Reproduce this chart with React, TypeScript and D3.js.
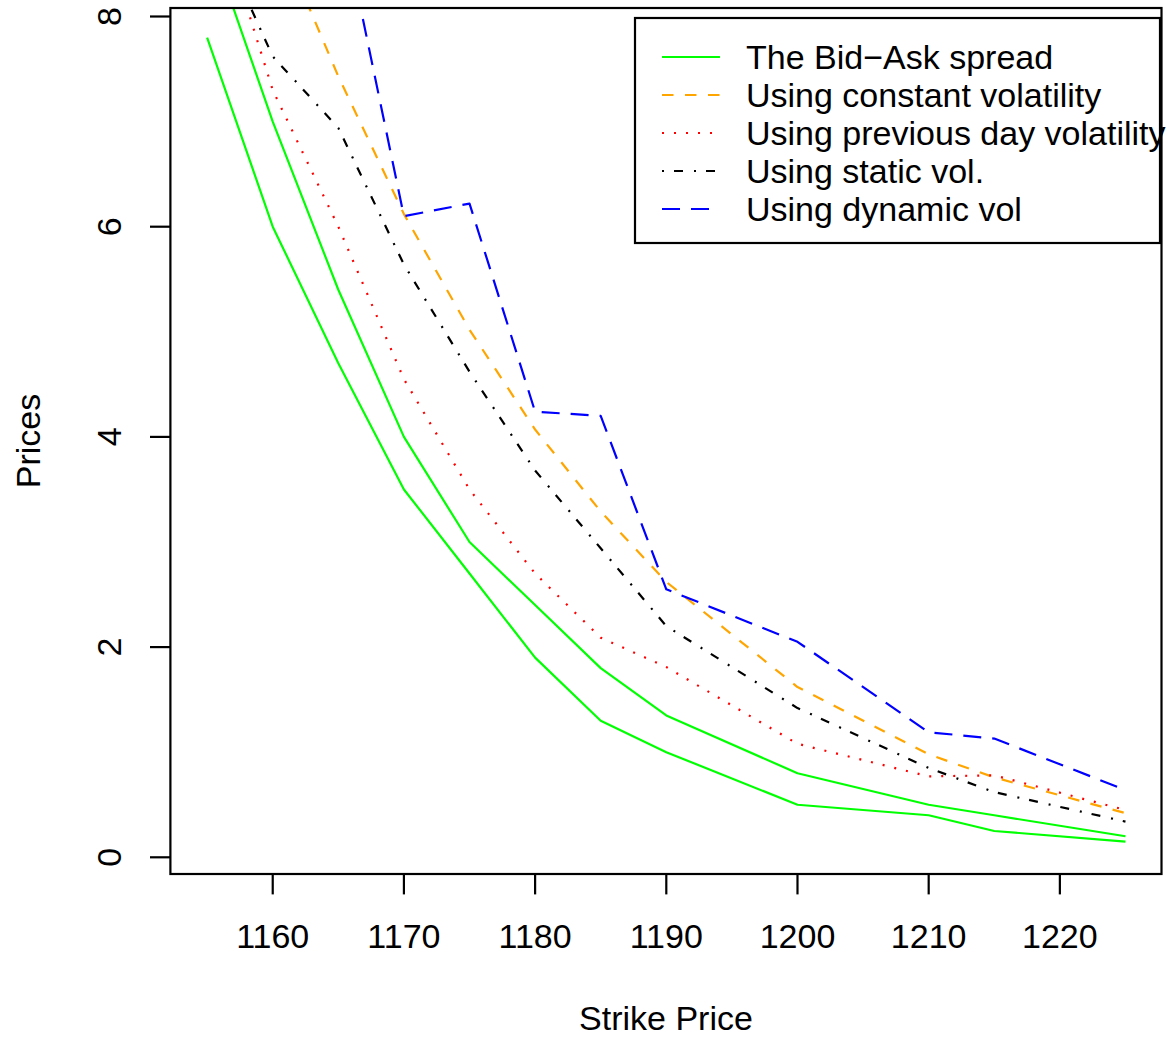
import React from 'react';
import * as d3 from 'd3';

const strikes = [1155, 1160, 1165, 1170, 1175, 1180, 1185, 1190, 1200, 1210, 1215, 1225];
const bidPrices = [7.8, 6.0, 4.7, 3.5, 2.7, 1.9, 1.3, 1.0, 0.5, 0.4, 0.25, 0.15];
const askPrices = [8.8, 7.0, 5.4, 4.0, 3.0, 2.4, 1.8, 1.35, 0.8, 0.5, 0.4, 0.2];
const constantVol = [10.6, 8.9, 7.43, 6.12, 5.02, 4.07, 3.29, 2.62, 1.62, 0.98, 0.76, 0.42];
const prevDayVol = [9.3, 7.3, 6.0, 4.55, 3.5, 2.7, 2.09, 1.81, 1.08, 0.77, 0.78, 0.45];
const staticVol = [9.0, 7.62, 6.94, 5.64, 4.62, 3.68, 2.94, 2.2, 1.42, 0.85, 0.62, 0.34];
const dynamicVol = [13.0, 11.0, 9.1, 6.1, 6.22, 4.24, 4.2, 2.55, 2.05, 1.19, 1.13, 0.64];

const xTicks = [1160, 1170, 1180, 1190, 1200, 1210, 1220];
const yTicks = [0, 2, 4, 6, 8];

const legendLabels = [
  'The Bid\u2212Ask spread',
  'Using constant volatility',
  'Using previous day volatility',
  'Using static vol.',
  'Using dynamic vol',
];
const legendColors = ['#00FF00', '#FFA500', '#FF0000', '#000000', '#0000FF'];
const legendDash = ['none', '11.5,11.5', '2,10', '2,10,9,11', '18,11'];

const FONT = '"Liberation Sans", Arial, Helvetica, sans-serif';
const FS = 34;

export default function App() {
  const W = 1170;
  const H = 1038;
  const x = d3.scaleLinear().domain([1152.2, 1227.8]).range([170.4, 1162.2]);
  const y = d3.scaleLinear().domain([0, 8]).range([857.3, 16.5]);
  const plotTop = 8;
  const plotBottom = 874;
  const plotLeft = x(1152.2);
  const plotRight = 1161.5;

  const line = d3
    .line<number>()
    .x((_, i) => x(strikes[i]))
    .y((d) => y(d));

  const series = [
    { data: bidPrices, color: '#00FF00', dash: 'none' },
    { data: askPrices, color: '#00FF00', dash: 'none' },
    { data: constantVol, color: '#FFA500', dash: '11.5,11.5' },
    { data: prevDayVol, color: '#FF0000', dash: '2,10' },
    { data: staticVol, color: '#000000', dash: '2,10,9,11' },
    { data: dynamicVol, color: '#0000FF', dash: '18,11' },
  ];

  const tickLen = 20.4;
  const lw = 2.2;

  const legX = 635;
  const legY = 18;
  const legW = 525;
  const legH = 225;
  const rowY0 = 57;
  const rowStep = 38;

  return (
    <svg
      width={W}
      height={H}
      viewBox={`0 0 ${W} ${H}`}
      style={{ position: 'absolute', left: 0, top: 0, background: '#fff' }}
      fontFamily={FONT}
    >
      <rect x={0} y={0} width={W} height={H} fill="#fff" />
      <defs>
        <clipPath id="plotClip">
          <rect x={plotLeft} y={plotTop} width={plotRight - plotLeft} height={plotBottom - plotTop} />
        </clipPath>
      </defs>

      <g clipPath="url(#plotClip)">
        {series.map((s, i) => (
          <path
            key={i}
            d={line(s.data) || ''}
            fill="none"
            stroke={s.color}
            strokeWidth={lw}
            strokeDasharray={s.dash}
            strokeLinejoin="round"
          />
        ))}
      </g>

      {/* box */}
      <rect
        x={plotLeft}
        y={plotTop}
        width={plotRight - plotLeft}
        height={plotBottom - plotTop}
        fill="none"
        stroke="#000"
        strokeWidth={lw}
      />

      {/* x axis */}
      {xTicks.map((t) => (
        <g key={t}>
          <line x1={x(t)} x2={x(t)} y1={plotBottom} y2={plotBottom + tickLen} stroke="#000" strokeWidth={lw} />
          <text x={x(t)} y={948} fontSize={FS} textAnchor="middle" fill="#000">
            {t}
          </text>
        </g>
      ))}

      {/* y axis */}
      {yTicks.map((t) => (
        <g key={t}>
          <line x1={plotLeft - tickLen} x2={plotLeft} y1={y(t)} y2={y(t)} stroke="#000" strokeWidth={lw} />
          <text
            transform={`translate(${120.5},${y(t)}) rotate(-90)`}
            fontSize={FS}
            textAnchor="middle"
            fill="#000"
          >
            {t}
          </text>
        </g>
      ))}

      <text x={(plotLeft + plotRight) / 2} y={1030} fontSize={FS} textAnchor="middle" fill="#000">
        Strike Price
      </text>
      <text
        transform={`translate(${40},${(plotTop + plotBottom) / 2}) rotate(-90)`}
        fontSize={FS}
        textAnchor="middle"
        fill="#000"
      >
        Prices
      </text>

      {/* legend */}
      <rect x={legX} y={legY} width={legW} height={legH} fill="#fff" stroke="#000" strokeWidth={lw} />
      {legendLabels.map((lab, i) => (
        <g key={lab}>
          <line
            x1={662}
            x2={720}
            y1={rowY0 + i * rowStep}
            y2={rowY0 + i * rowStep}
            stroke={legendColors[i]}
            strokeWidth={lw}
            strokeDasharray={legendDash[i]}
          />
          <text x={746} y={rowY0 + i * rowStep + 12} fontSize={FS} fill="#000">
            {lab}
          </text>
        </g>
      ))}
    </svg>
  );
}
